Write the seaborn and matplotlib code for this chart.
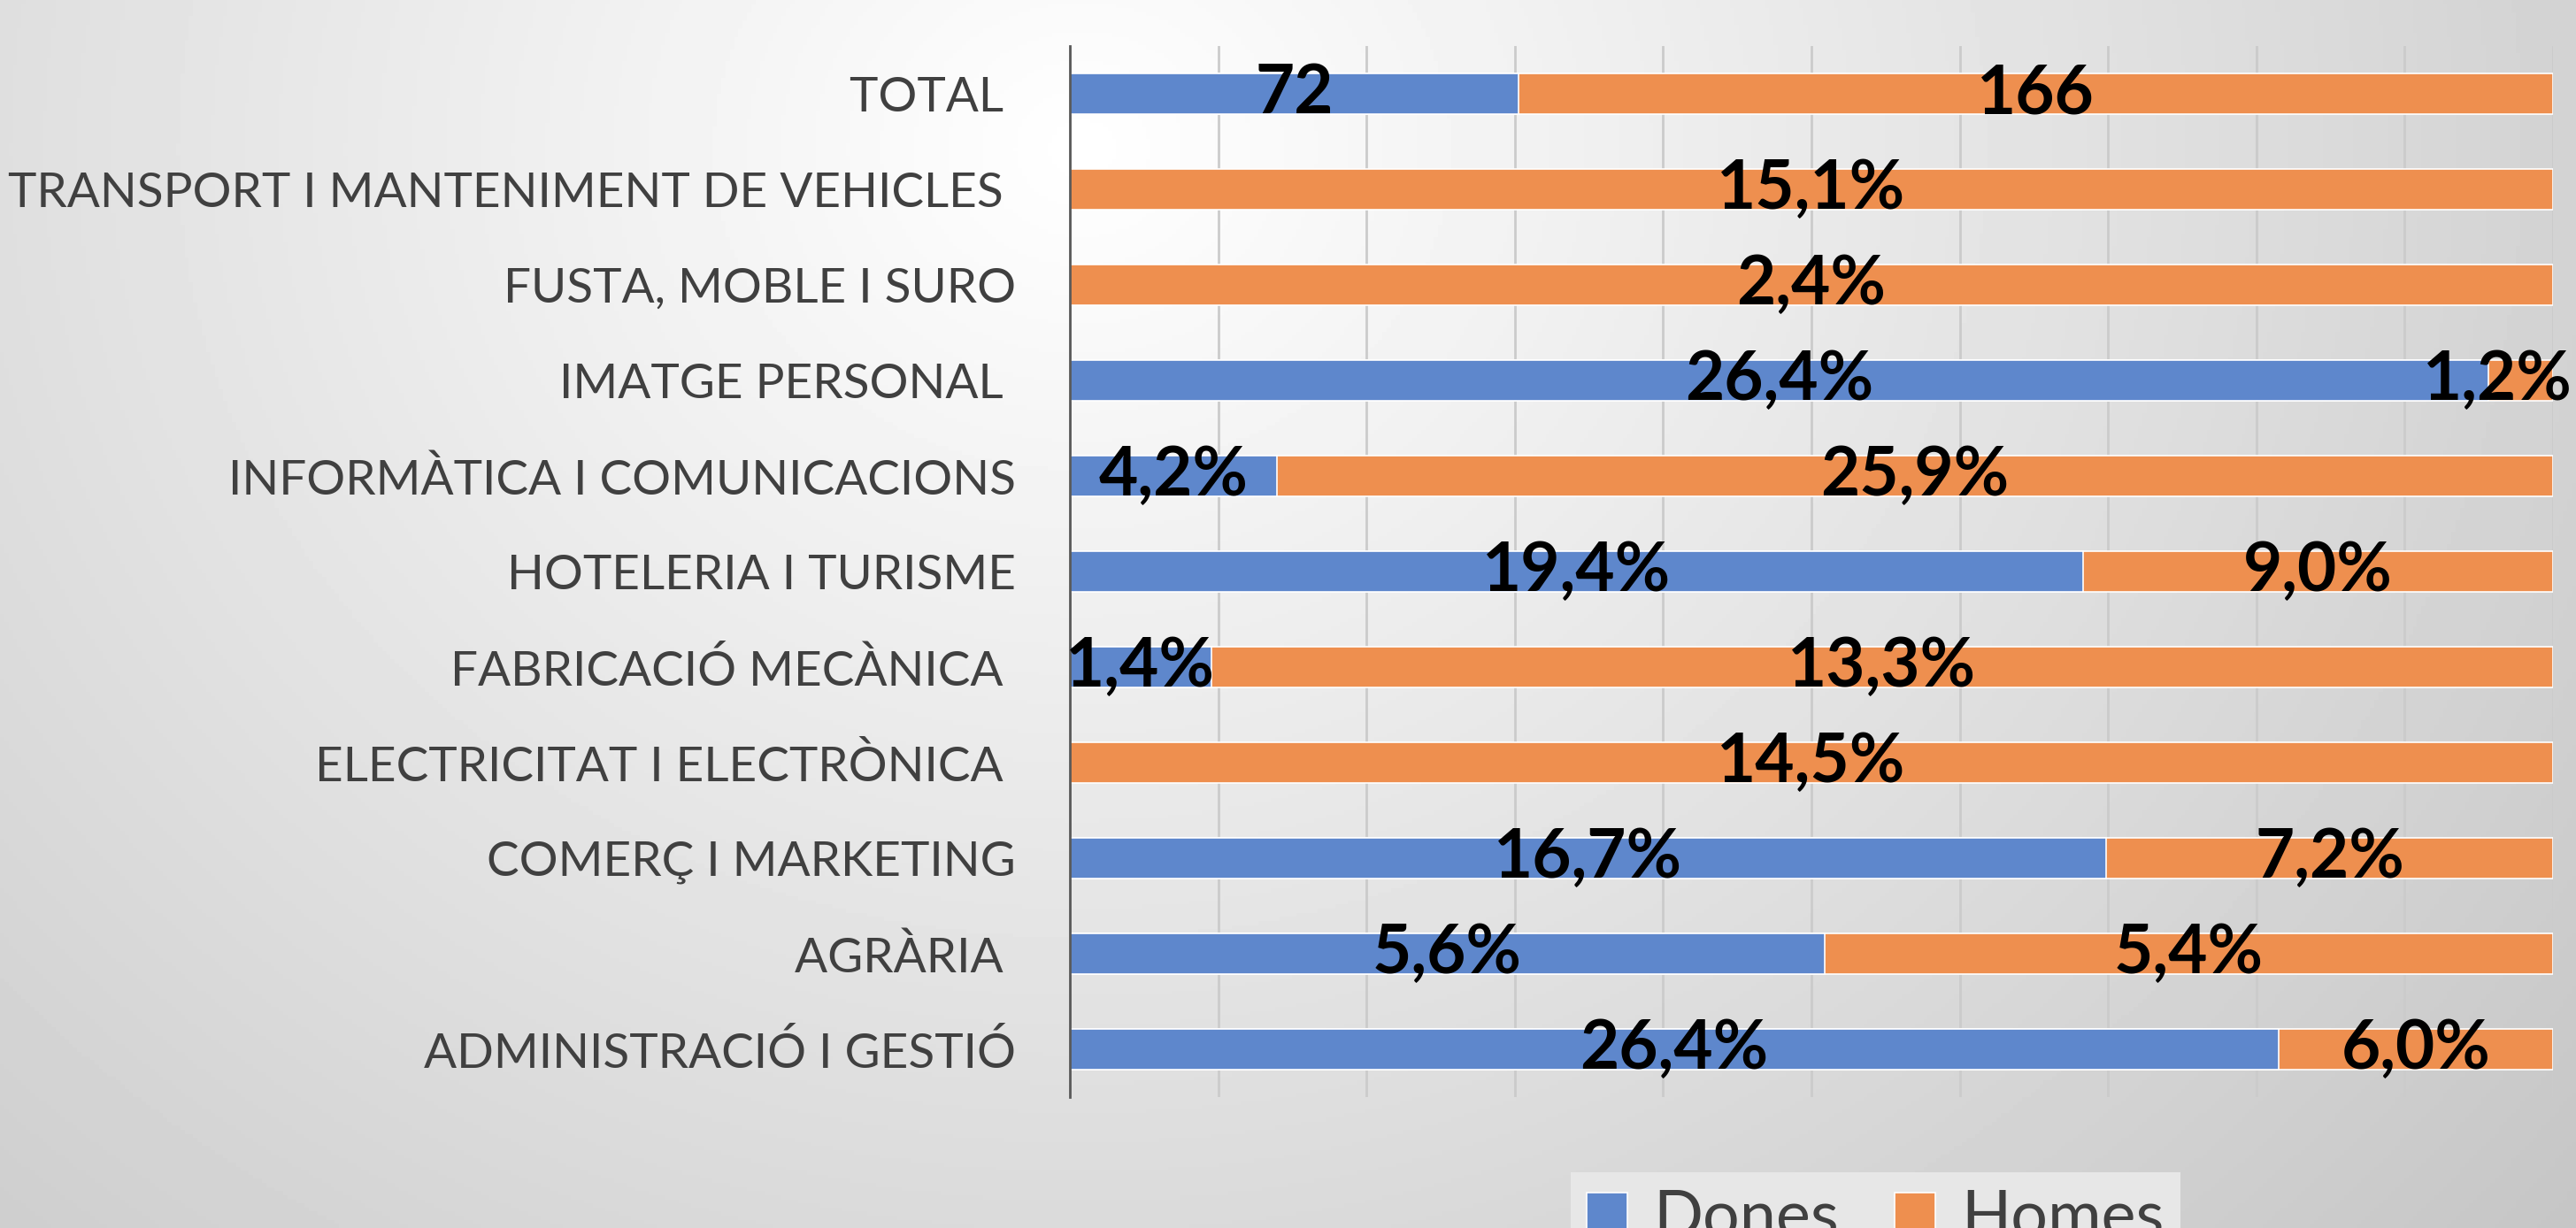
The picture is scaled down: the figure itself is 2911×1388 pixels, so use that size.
import numpy as np
import pandas as pd
import matplotlib.pyplot as plt
import matplotlib.transforms as mtransforms
import seaborn as sns

# data (percent of each gender's total, and the totals)
sectors = ["TRANSPORT I MANTENIMENT DE VEHICLES ", "FUSTA, MOBLE I SURO",
           "IMATGE PERSONAL ", "INFORMÀTICA I COMUNICACIONS",
           "HOTELERIA I TURISME", "FABRICACIÓ MECÀNICA ",
           "ELECTRICITAT I ELECTRÒNICA ", "COMERÇ I MARKETING",
           "AGRÀRIA ", "ADMINISTRACIÓ I GESTIÓ"]
dones_pct = [0.0, 0.0, 26.4, 4.2, 19.4, 1.4, 0.0, 16.7, 5.6, 26.4]
homes_pct = [15.1, 2.4, 1.2, 25.9, 9.0, 13.3, 14.5, 7.2, 5.4, 6.0]
total_label = "TOTAL "
total_dones = 72
total_homes = 166

blue = "#5E87CC"
orange = "#EE8F4F"

df = pd.DataFrame({
    "cat": [total_label] + sectors,
    "dones": [total_dones] + dones_pct,
    "homes": [total_homes] + homes_pct,
})
df["share"] = df["dones"] / (df["dones"] + df["homes"]) * 100
df["full"] = 100.0

sns.set_theme(style="white")
plt.rcParams["font.family"] = ["Lato", "DejaVu Sans"]

fig = plt.figure(figsize=(29.11, 13.88), dpi=100)

# soft grey radial background like the slide
bg = fig.add_axes([0, 0, 1, 1], zorder=-5)
yy, xx = np.mgrid[0:1:300j, 0:1:600j]
d = np.sqrt(((xx - 0.42) / 0.6) ** 2 + ((yy - 0.12) / 1.1) ** 2)
shade = np.clip(1 - 0.18 * d, 0, 1)
bg.imshow(shade, cmap="gray", vmin=0, vmax=1, aspect="auto", extent=[0, 1, 0, 1])
bg.axis("off")

ax = fig.add_axes([0.4153, 0.1066, 0.5758, 0.8559])
ax.set_facecolor("none")

sns.barplot(data=df, x="full", y="cat", color=orange, saturation=1, width=0.43,
            orient="h", edgecolor="white", linewidth=1.2, ax=ax, label="Homes")
sns.barplot(data=df, x="share", y="cat", color=blue, saturation=1, width=0.43,
            orient="h", edgecolor="white", linewidth=1.2, ax=ax, label="Dones")
for p in ax.patches:
    if p.get_width() == 0:
        p.set_linewidth(0)

# data labels centred on each segment
texts = []
for i, row in df.iterrows():
    if i == 0:
        ltxt, rtxt = str(int(row["dones"])), str(int(row["homes"]))
    else:
        ltxt = f"{row['dones']:.1f}%".replace(".", ",")
        rtxt = f"{row['homes']:.1f}%".replace(".", ",")
    if row["dones"] > 0:
        texts.append(ax.text(row["share"] / 2, i, ltxt, ha="center", va="center",
                             fontsize=55, fontweight="bold", color="black",
                             zorder=5, clip_on=False))
    if row["homes"] > 0:
        texts.append(ax.text((row["share"] + 100) / 2, i, rtxt, ha="center",
                             va="center", fontsize=55, fontweight="bold",
                             color="black", zorder=5, clip_on=False))

ax.set_xlim(0, 100)
ax.set_ylim(10.5, -0.5)
ax.set_xticks(np.arange(0, 101, 10))
ax.set_xticklabels([])
ax.grid(axis="x", color="#cbcbcb", linewidth=2)
ax.set_axisbelow(True)
ax.set_xlabel("")
ax.set_ylabel("")
ax.tick_params(axis="y", length=0, pad=44, labelsize=39.5, labelcolor="#404040")
ax.tick_params(axis="x", length=0)
for s in ["top", "right", "bottom"]:
    ax.spines[s].set_visible(False)
ax.spines["left"].set_color("#595959")
ax.spines["left"].set_linewidth(2)

# keep labels inside the figure like Excel does
fig.canvas.draw()
renderer = fig.canvas.get_renderer()
for t in texts:
    bb = t.get_window_extent(renderer)
    over = bb.x1 - (fig.bbox.width - 4)
    if over > 0:
        t.set_transform(t.get_transform() + mtransforms.Affine2D().translate(-over, 0))

handles, labels = ax.get_legend_handles_labels()
order = [labels.index("Dones"), labels.index("Homes")]
if ax.legend_:
    ax.legend_.remove()
fig.legend([handles[k] for k in order], [labels[k] for k in order],
           loc="upper center", bbox_to_anchor=(0.728, 0.072), ncol=2,
           fontsize=53, frameon=True, fancybox=False, facecolor="#e7e7e7",
           edgecolor="none", framealpha=1, handlelength=0.62,
           handleheight=0.62, handletextpad=0.4, columnspacing=0.86,
           borderpad=0.25, labelcolor="#404040")

fig.savefig("out.png", dpi=100)
